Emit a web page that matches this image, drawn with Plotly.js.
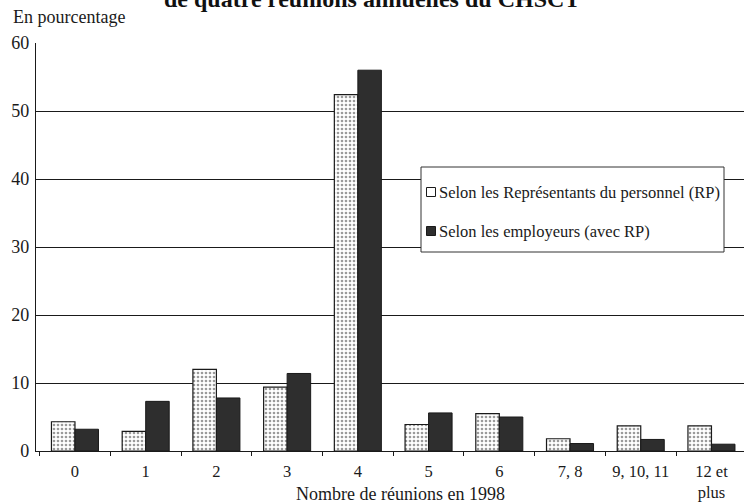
<!DOCTYPE html>
<html>
<head>
<meta charset="utf-8">
<script src="https://cdn.plot.ly/plotly-3.0.1.min.js"></script>
<style>html,body{margin:0;padding:0;background:#fff;}#chart{width:744px;height:504px;}</style>
</head>
<body>
<div id="chart"></div>
<script>
const categories = ["0", "1", "2", "3", "4", "5", "6", "7, 8", "9, 10, 11", "12 et<br>plus"];
const representantsRP = [4.3, 2.9, 12.0, 9.4, 52.4, 3.9, 5.5, 1.8, 3.7, 3.7];
const employeursAvecRP = [3.2, 7.3, 7.8, 11.4, 56.0, 5.6, 5.0, 1.1, 1.7, 1.0];
const yTicks = [0, 10, 20, 30, 40, 50, 60];
const seriesNames = ["Selon les Représentants du personnel (RP)", "Selon les employeurs (avec RP)"];
const seriesFill = ["#ffffff", "#2e2e2e"];

const serif = "'Liberation Serif', 'DejaVu Serif', serif";

const traces = [
  {
    type: "bar",
    name: seriesNames[0],
    x: categories,
    y: representantsRP,
    marker: {
      color: seriesFill[0],
      line: {color: "#1a1a1a", width: 1.2},
      pattern: {shape: ".", bgcolor: "#ffffff", fgcolor: "#9a9a9a", size: 4, solidity: 0.35}
    },
    hoverinfo: "x+y"
  },
  {
    type: "bar",
    name: seriesNames[1],
    x: categories,
    y: employeursAvecRP,
    marker: {color: seriesFill[1], line: {color: "#1a1a1a", width: 1}},
    hoverinfo: "x+y"
  }
];

// Legend drawn as a framed box (pixel positions converted to paper coords)
const L = 36, T = 43, PW = 708, PH = 408;
const px = v => (v - L) / PW;
const py = v => (T + PH - v) / PH;

const legendShapes = [
  {type: "rect", xref: "paper", yref: "paper", x0: px(421), x1: px(724), y0: py(252), y1: py(167),
   line: {color: "#333333", width: 1}, fillcolor: "#ffffff", layer: "above"}
];
const legendRows = [192, 231];
const legendAnn = [];
seriesNames.forEach((name, i) => {
  const cy = legendRows[i];
  legendShapes.push({type: "rect", xref: "paper", yref: "paper",
    x0: px(426.5), x1: px(435.5), y0: py(cy + 4.5), y1: py(cy - 4.5),
    line: {color: "#1a1a1a", width: 1}, fillcolor: seriesFill[i], layer: "above"});
  legendAnn.push({text: name, xref: "paper", yref: "paper", x: px(437), y: py(cy),
    xanchor: "left", yanchor: "middle", showarrow: false,
    font: {family: serif, size: 16.5, color: "#1a1a1a"}});
});

const layout = {
  width: 744,
  height: 504,
  margin: {l: L, r: 0, t: T, b: 504 - T - PH},
  paper_bgcolor: "#ffffff",
  plot_bgcolor: "#ffffff",
  font: {family: serif, color: "#1a1a1a", size: 17},
  barmode: "group",
  bargap: 0.335,
  bargroupgap: 0,
  showlegend: false,
  xaxis: {
    type: "category",
    range: [-0.551, 9.46],
    showline: true, linecolor: "#1a1a1a", linewidth: 1.2,
    ticks: "outside", tickson: "boundaries", ticklen: 4, tickcolor: "#1a1a1a",
    tickfont: {family: serif, size: 16.5, color: "#1a1a1a"},
    ticklabelstandoff: 5,
    showgrid: false, zeroline: false, fixedrange: true
  },
  yaxis: {
    range: [0, 60],
    tickvals: yTicks,
    ticktext: yTicks.map(String),
    showline: true, linecolor: "#1a1a1a", linewidth: 1.2,
    ticks: "",
    showgrid: true, gridcolor: "#1a1a1a", gridwidth: 1,
    zeroline: false,
    tickfont: {family: serif, size: 18, color: "#1a1a1a"},
    ticklabelstandoff: 2,
    fixedrange: true
  },
  shapes: legendShapes,
  annotations: [
    {
      text: "<b>de quatre réunions annuelles du CHSCT</b>",
      xref: "paper", yref: "paper", x: px(372), y: py(14),
      xanchor: "center", yanchor: "bottom", showarrow: false,
      font: {family: serif, size: 24, color: "#111111"}
    },
    {
      text: "En pourcentage",
      xref: "paper", yref: "paper", x: px(11), y: py(17),
      xanchor: "left", yanchor: "middle", showarrow: false,
      font: {family: serif, size: 18, color: "#1a1a1a"}
    },
    {
      text: "Nombre de réunions en 1998",
      xref: "paper", yref: "paper", x: px(400), y: py(494),
      xanchor: "center", yanchor: "middle", showarrow: false,
      font: {family: serif, size: 18, color: "#1a1a1a"}
    }
  ].concat(legendAnn)
};

Plotly.newPlot("chart", traces, layout, {displayModeBar: false, staticPlot: true});
</script>
</body>
</html>
